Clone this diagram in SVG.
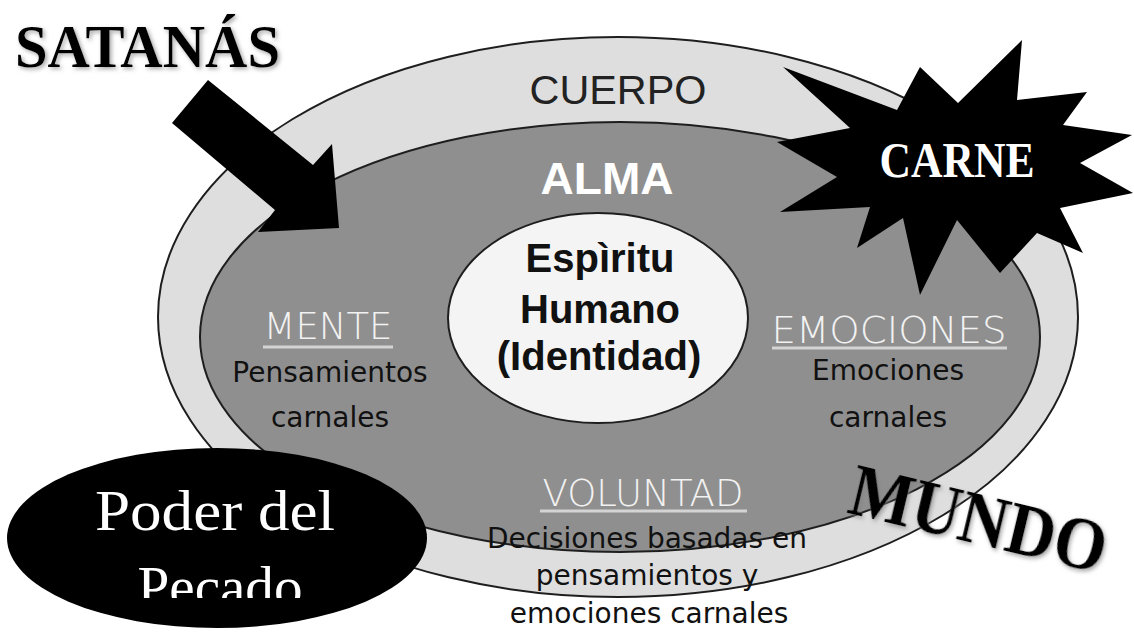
<svg xmlns="http://www.w3.org/2000/svg" width="1134" height="637" viewBox="0 0 1134 637">
  <defs>
    <style>
      .ring { stroke: #1e1e1e; stroke-width: 2; }
      .lbl { font-family: "DejaVu Sans", "Liberation Sans", sans-serif; font-weight: 200; font-size: 37px; fill: #f2f2f2; text-anchor: middle; }
      .uline { stroke: #d4d4d4; stroke-width: 3; }
      .body { font-family: "DejaVu Sans", "Liberation Sans", sans-serif; font-size: 28px; fill: #111; text-anchor: middle; }
      .spirit { font-family: "Liberation Sans", Arial, sans-serif; font-weight: bold; font-size: 40px; fill: #111; text-anchor: middle; }
      .big { font-family: "Liberation Serif", "Times New Roman", serif; font-weight: bold; fill: #000; }
      .poder { font-family: "Liberation Serif", "Times New Roman", serif; font-size: 58px; fill: #fff; text-anchor: middle; }
    </style>
    <filter id="glow" x="-50%" y="-50%" width="200%" height="200%">
      <feDropShadow dx="2" dy="2" stdDeviation="2" flood-color="#808080" flood-opacity="0.7"/>
    </filter>
    <clipPath id="clipPecado">
      <rect x="0" y="0" width="450" height="598"/>
    </clipPath>
  </defs>

  <rect x="0" y="0" width="1134" height="637" fill="#ffffff"/>

  <g id="cuerpo">
    <ellipse class="ring" cx="618" cy="317" rx="460" ry="280" fill="#dedede"/>
    <text x="618" y="104" font-family="Liberation Sans, Arial, sans-serif" font-size="40" fill="#222" text-anchor="middle" textLength="177" lengthAdjust="spacingAndGlyphs">CUERPO</text>
  </g>

  <g id="alma">
    <ellipse class="ring" cx="620" cy="337" rx="420" ry="215" fill="#8f8f8f"/>
    <text x="607" y="194" font-family="Liberation Sans, Arial, sans-serif" font-weight="bold" font-size="45" fill="#ffffff" text-anchor="middle" textLength="133" lengthAdjust="spacingAndGlyphs">ALMA</text>
  </g>

  <g id="espiritu">
    <ellipse class="ring" cx="598" cy="318" rx="150" ry="105" fill="#f4f4f4"/>
    <text class="spirit" x="600" y="272">Espìritu</text>
    <text class="spirit" x="600" y="323">Humano</text>
    <text class="spirit" x="599" y="370">(Identidad)</text>
  </g>

  <g id="mente">
    <text class="lbl" x="328" y="339">MENTE</text>
    <line class="uline" x1="263" y1="347" x2="393" y2="347"/>
    <text class="body" x="330" y="382">Pensamientos</text>
    <text class="body" x="330" y="427">carnales</text>
  </g>

  <g id="emociones">
    <text class="lbl" x="889" y="343" textLength="235" lengthAdjust="spacingAndGlyphs">EMOCIONES</text>
    <line class="uline" x1="772" y1="348" x2="1007" y2="348"/>
    <text class="body" x="888" y="380">Emociones</text>
    <text class="body" x="888" y="427">carnales</text>
  </g>

  <g id="voluntad">
    <text class="lbl" x="643" y="506">VOLUNTAD</text>
    <line class="uline" x1="540" y1="511" x2="747" y2="511"/>
    <text class="body" x="647" y="548">Decisiones basadas en</text>
    <text class="body" x="647" y="585">pensamientos y</text>
    <text class="body" x="649" y="623">emociones carnales</text>
  </g>

  <g id="connectors">
    <polygon id="arrow-satanas" points="208,80 313,165 332,144 339,228 258,232 275,210 172,123" fill="#000"/>
  </g>

  <g id="carne">
    <polygon points="783,67 897,110 920,67 958,103 1022,40 1017,100 1087,92 1063,125 1132,135 1080,163 1133,193 1060,208 1083,253 1037,233 1000,273 957,220 920,295 903,218 857,248 870,207 780,212 837,177 777,142 850,128" fill="#000"/>
    <text x="957" y="177" font-family="Liberation Serif, Times New Roman, serif" font-weight="bold" font-size="50" fill="#fff" text-anchor="middle" textLength="155" lengthAdjust="spacingAndGlyphs">CARNE</text>
  </g>

  <g id="poder-del-pecado">
    <ellipse cx="217" cy="538" rx="210" ry="90" fill="#000"/>
    <text class="poder" x="215" y="530" textLength="240" lengthAdjust="spacingAndGlyphs">Poder del</text>
    <g clip-path="url(#clipPecado)">
      <text class="poder" x="220" y="606" textLength="165" lengthAdjust="spacingAndGlyphs">Pecado</text>
    </g>
  </g>

  <g id="mundo">
    <text class="big" x="0" y="0" font-size="74" text-anchor="middle" textLength="262" lengthAdjust="spacingAndGlyphs" filter="url(#glow)" transform="translate(973,543) rotate(13.5)">MUNDO</text>
  </g>

  <g id="satanas">
    <text class="big" x="15" y="67" font-size="62" textLength="265" lengthAdjust="spacingAndGlyphs" filter="url(#glow)">SATANÁS</text>
  </g>
</svg>
